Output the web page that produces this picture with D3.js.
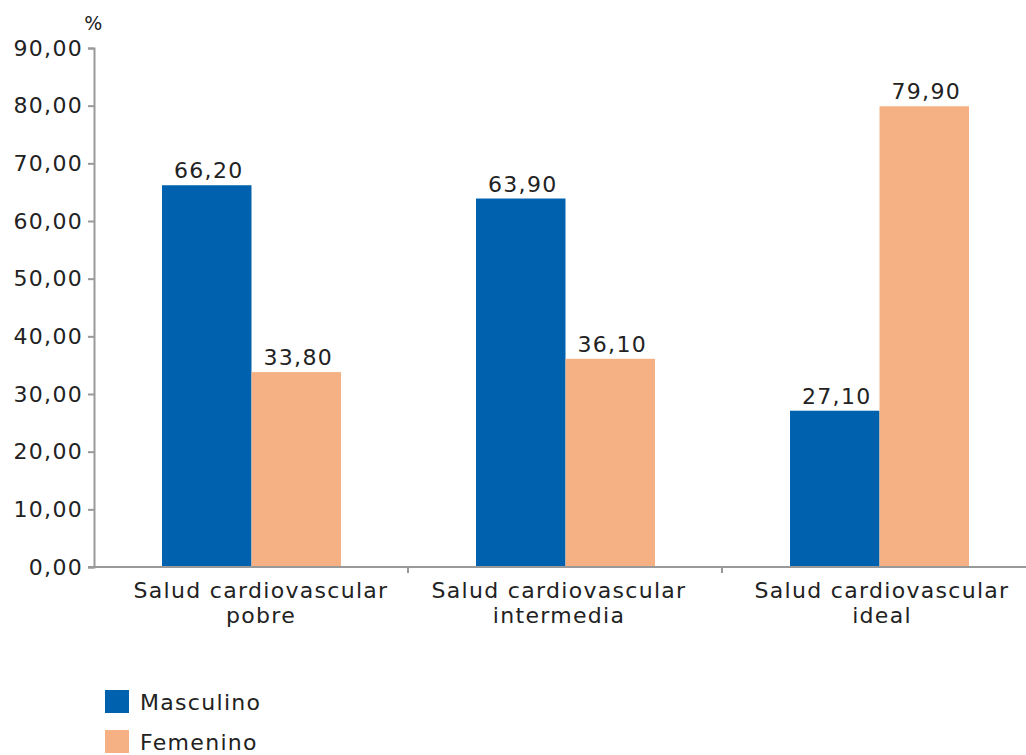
<!DOCTYPE html>
<meta charset='utf-8'>
<style>
    body { margin: 0; background: #fff; }
    text { font-family: 'DejaVu Sans', Verdana, sans-serif; fill: #222; letter-spacing: 1.3px; }
</style>
<body>
    <script src='https://d3js.org/d3.v7.min.js'></script>
    <script>
        var width = 1026,
            height = 755;

        // data
        var categories = ['Salud cardiovascular pobre', 'Salud cardiovascular intermedia', 'Salud cardiovascular ideal'];
        var series = ['Masculino', 'Femenino'];
        var masculino = [66.2, 63.9, 27.1];
        var femenino = [33.8, 36.1, 79.9];
        var yTicks = [0, 10, 20, 30, 40, 50, 60, 70, 80, 90];
        var colors = ['#0062ae', '#f5b183'];

        var fmt = function(v) { return v.toFixed(2).replace('.', ','); };

        var svg = d3.select('body').append('svg')
            .attr('width', width)
            .attr('height', height);

        var plotLeft = 94, plotTop = 48, plotBottom = 567;
        var fs = '22px';
        // category labels are not exactly centred in the original
        var labelShift = [10, -6, 3];

        var y = d3.scaleLinear().domain([0, 90]).range([plotBottom, plotTop]);
        var x = d3.scaleBand().domain(categories).range([plotLeft, plotLeft + 314 * 3]);
        var inner = d3.scaleBand().domain(series).range([68, 247]);

        // y axis
        var yAxis = svg.append('g').attr('transform', 'translate(' + plotLeft + ',0)')
            .call(d3.axisLeft(y).tickValues(yTicks).tickFormat(fmt).tickSize(6).tickPadding(5));
        yAxis.select('.domain').attr('stroke', '#999').attr('stroke-width', 2);
        yAxis.selectAll('.tick line').attr('stroke', '#999').attr('stroke-width', 2);
        yAxis.selectAll('text').style('font-size', fs).style('font-family', null).attr('fill', '#222');

        svg.append('text').attr('x', 94).attr('y', 30).attr('text-anchor', 'middle')
            .style('font-size', '19px').text('%');

        // bars
        var groups = svg.selectAll('g.cat').data(categories).enter().append('g')
            .attr('class', 'cat')
            .attr('transform', function(d) { return 'translate(' + x(d) + ',0)'; });

        groups.each(function(c, i) {
            var vals = [masculino[i], femenino[i]];
            var g = d3.select(this);
            g.selectAll('rect').data(vals).enter().append('rect')
                .attr('x', function(d, j) { return inner(series[j]); })
                .attr('width', inner.bandwidth())
                .attr('y', function(d) { return y(d); })
                .attr('height', function(d) { return plotBottom - y(d); })
                .attr('fill', function(d, j) { return colors[j]; });
            g.selectAll('text.val').data(vals).enter().append('text')
                .attr('class', 'val')
                .attr('x', function(d, j) { return inner(series[j]) + inner.bandwidth() / 2 + 2; })
                .attr('y', function(d) { return y(d) - 7; })
                .attr('text-anchor', 'middle')
                .style('font-size', fs)
                .text(fmt);
        });

        // x axis
        svg.append('line').attr('x1', plotLeft - 6).attr('x2', width).attr('y1', plotBottom).attr('y2', plotBottom)
            .attr('stroke', '#999').attr('stroke-width', 2);
        svg.selectAll('line.xt').data(categories.slice(1)).enter().append('line')
            .attr('x1', function(d) { return x(d); }).attr('x2', function(d) { return x(d); })
            .attr('y1', plotBottom).attr('y2', plotBottom + 6)
            .attr('stroke', '#999').attr('stroke-width', 2);

        var labels = svg.selectAll('text.cat').data(categories).enter().append('text')
            .attr('class', 'cat')
            .attr('text-anchor', 'middle')
            .style('font-size', fs)
            .attr('transform', function(d, i) { return 'translate(' + (x(d) + x.bandwidth() / 2 + labelShift[i]) + ',598)'; });
        labels.each(function(d) {
            var words = d.split(' ');
            var t = d3.select(this);
            t.append('tspan').attr('x', 0).attr('dy', 0).text(words[0] + ' ' + words[1]);
            t.append('tspan').attr('x', 0).attr('dy', 25).text(words[2]);
        });

        // legend
        var legend = svg.selectAll('g.leg').data(series).enter().append('g')
            .attr('class', 'leg')
            .attr('transform', function(d, i) { return 'translate(105,' + (690 + i * 40) + ')'; });
        legend.append('rect').attr('width', 24).attr('height', 23)
            .attr('fill', function(d, i) { return colors[i]; });
        legend.append('text').attr('x', 35).attr('y', 20).style('font-size', fs).text(function(d) { return d; });
    </script>
</body>
